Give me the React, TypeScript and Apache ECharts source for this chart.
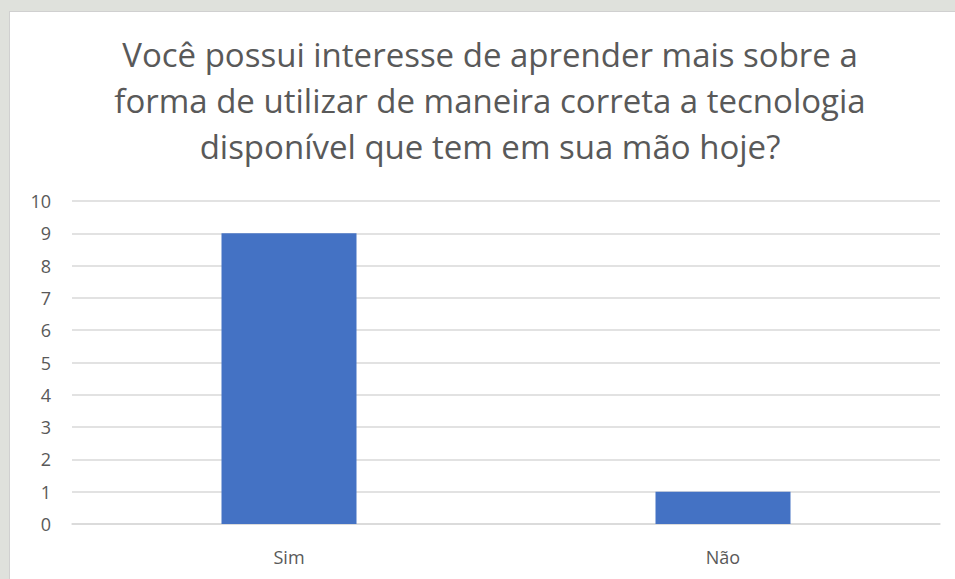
import React, { useEffect, useRef } from "react";
import * as echarts from "echarts";

const titleLines = [
  "Você possui interesse de aprender mais sobre a",
  "forma de utilizar de maneira correta a tecnologia",
  "disponível que tem em sua mão hoje?",
];
const categories = ["Sim", "Não"];
const values = [9, 1];
const yMin = 0;
const yMax = 10;
const yInterval = 1;

export default function App() {
  const ref = useRef<HTMLDivElement>(null);
  useEffect(() => {
    if (!ref.current) return;
    const chart = echarts.init(ref.current, null, { renderer: "svg" });
    chart.setOption({
      animation: false,
      backgroundColor: "#ffffff",
      title: {
        text: titleLines.join("\n"),
        left: 475,
        top: 14,
        textAlign: "center",
        textStyle: {
          fontFamily: "Open Sans",
          fontSize: 33,
          fontWeight: "normal",
          color: "#595959",
          lineHeight: 46,
        },
      },
      grid: { left: 62, right: 15, top: 189, bottom: 55 },
      xAxis: {
        type: "category",
        data: categories,
        axisLine: { show: true, lineStyle: { color: "#d9d9d9", width: 1.5 } },
        axisTick: { show: false },
        axisLabel: { color: "#595959", fontSize: 18, fontFamily: "Open Sans", margin: 24 },
      },
      yAxis: {
        type: "value",
        min: yMin,
        max: yMax,
        interval: yInterval,
        axisLine: { show: false },
        axisTick: { show: false },
        splitLine: { lineStyle: { color: "#d9d9d9", width: 1.5 } },
        axisLabel: { color: "#595959", fontSize: 18, fontFamily: "Open Sans", margin: 21 },
      },
      series: [
        {
          type: "bar",
          data: values,
          barWidth: 135,
          itemStyle: { color: "#4472c4" },
        },
      ],
    });
    return () => chart.dispose();
  }, []);
  return (
    <div style={{ position: "absolute", left: 0, top: 0, width: 955, height: 579, background: "#dfe1dc" }}>
      <div
        ref={ref}
        style={{ position: "absolute", left: 9, top: 11, width: 946, height: 568, borderTop: "1px solid #d0d0d0", borderLeft: "1px solid #d0d0d0", boxSizing: "border-box" }}
      />
    </div>
  );
}
